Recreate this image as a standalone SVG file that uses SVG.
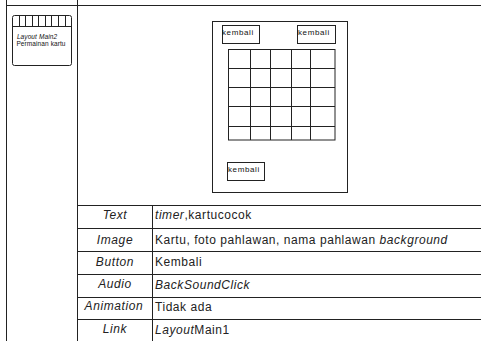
<svg xmlns="http://www.w3.org/2000/svg" width="481" height="341" viewBox="0 0 481 341">
<style>
.ln{stroke:#222;stroke-width:1;fill:none}
.bx{stroke:#222;stroke-width:1;fill:#fff}
.t{font-family:"Liberation Sans",Arial,sans-serif;font-size:12px;letter-spacing:0.55px;fill:#222}
.lb{font-family:"Liberation Sans",Arial,sans-serif;font-size:12px;letter-spacing:0.6px;fill:#222;font-style:italic;text-anchor:middle}
.i{font-style:italic}
.k{font-family:"Liberation Sans",Arial,sans-serif;font-size:8px;letter-spacing:0.6px;fill:#111}
.s{font-family:"Liberation Sans",Arial,sans-serif;font-size:6.5px;letter-spacing:0.1px;fill:#111;text-anchor:middle}
</style>
<rect width="481" height="341" fill="#fff"/>
<g id="frame">
<line class="ln" x1="6.5" y1="0" x2="6.5" y2="341"/>
<line class="ln" x1="77.5" y1="0" x2="77.5" y2="341"/>
<line class="ln" x1="6" y1="5.5" x2="481" y2="5.5"/>
<line class="ln" x1="77" y1="205.5" x2="481" y2="205.5"/>
<line class="ln" x1="77" y1="228.5" x2="481" y2="228.5"/>
<line class="ln" x1="77" y1="251.5" x2="481" y2="251.5"/>
<line class="ln" x1="77" y1="274.5" x2="481" y2="274.5"/>
<line class="ln" x1="77" y1="297.5" x2="481" y2="297.5"/>
<line class="ln" x1="77" y1="319.5" x2="481" y2="319.5"/>
<line class="ln" x1="152.5" y1="205" x2="152.5" y2="341"/>
</g>
<g id="node-layout-main2">
<rect class="bx" x="12.5" y="15.5" width="59" height="50" rx="2"/>
<line class="ln" x1="12.5" y1="26.5" x2="71.5" y2="26.5"/>
<path class="ln" d="M19.5 15.5V26.5M25.5 15.5V26.5M32.5 15.5V26.5M38.5 15.5V26.5M45.5 15.5V26.5M51.5 15.5V26.5M58.5 15.5V26.5M65.5 15.5V26.5"/>
<text class="s i" x="37" y="39">Layout Main2</text>
<text class="s" x="41" y="46">Permainan kartu</text>
</g>
<g id="node-mockup">
<rect class="bx" x="212.5" y="21.5" width="135" height="171"/>
<rect class="bx" x="222.5" y="25.5" width="37" height="18"/>
<text class="k" x="222" y="35">kembali</text>
<rect class="bx" x="297.5" y="25.5" width="38" height="18"/>
<text class="k" x="298" y="35">kembali</text>
<rect class="bx" x="227.5" y="162.5" width="37" height="18"/>
<text class="k" x="228" y="172">kembali</text>
<g>
<rect class="bx" x="228.5" y="49.5" width="106.5" height="90.5"/>
<path class="ln" d="M228.5 68.5H335M228.5 87.5H335M228.5 106.5H335M228.5 126.5H335M250.5 49.5V140M270.5 49.5V140M291.5 49.5V140M310.5 49.5V140"/>
</g>
</g>
<g id="rows">
<text class="lb" x="115" y="219">Text</text>
<text class="t" x="155" y="219"><tspan class="i">timer</tspan>,kartucocok</text>
<text class="lb" x="115" y="244">Image</text>
<text class="t" x="155" y="244">Kartu, foto pahlawan, nama pahlawan <tspan class="i">background</tspan></text>
<text class="lb" x="115" y="266">Button</text>
<text class="t" x="155" y="266">Kembali</text>
<text class="lb" x="115" y="288">Audio</text>
<text class="t i" x="155" y="289">BackSoundClick</text>
<text class="lb" x="114" y="310">Animation</text>
<text class="t" x="155" y="311">Tidak ada</text>
<text class="lb" x="115" y="333">Link</text>
<text class="t" x="155" y="334"><tspan class="i">Layout</tspan>Main1</text>
</g>
</svg>
